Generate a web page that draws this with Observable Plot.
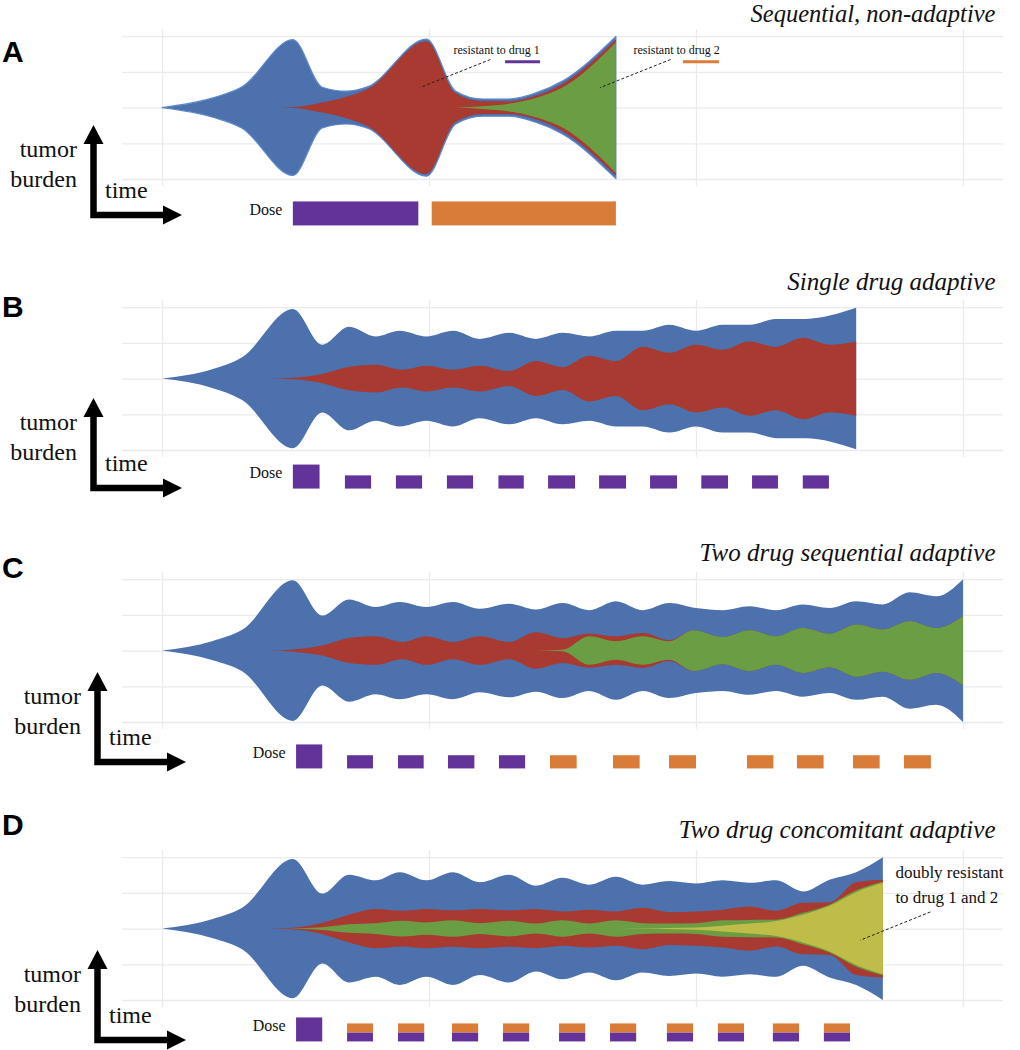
<!DOCTYPE html>
<html><head><meta charset="utf-8">
<script src="https://cdn.jsdelivr.net/npm/d3@7"></script>
<script src="https://cdn.jsdelivr.net/npm/@observablehq/plot@0.6"></script>
<style>
html,body{margin:0;padding:0;background:#fff;}
#root{position:relative;width:1020px;height:1050px;overflow:hidden;background:#fff;}
.panel{position:absolute;left:0;}
#overlay{position:absolute;left:0;top:0;pointer-events:none;}
</style></head><body><div id="root"></div>
<script>
// ---------- grid ----------
const gridTimes = [0, 100, 200, 300];
const gridLevels = [-2, -1, 0, 1, 2];

// ---------- panel titles ----------
const panelLetters = ["A", "B", "C", "D"];
const panelTitles = ["Sequential, non-adaptive", "Single drug adaptive", "Two drug sequential adaptive", "Two drug concomitant adaptive"];

// ---------- A : sequential, non-adaptive ----------
const A_blue_t = [0, 19, 30, 49, 60, 69, 77, 99, 110, 120, 130, 140, 150, 170];
const A_blue_h = [0, .27, .58, 1.90, .57, .46, .58, 1.92, .46, .24, .24, .41, .74, 1.99];
const A_red_t = [40, 49, 60, 69, 77, 99, 110, 120, 130, 140, 150, 170];
const A_red_h = [0, .01, .14, .30, .52, 1.86, .40, .18, .18, .33, .66, 1.91];
const A_green_t = [110, 120, 130, 140, 150, 170];
const A_green_h = [0, .04, .11, .27, .56, 1.83];
const A_dose_start = [49, 101];
const A_dose_end = [96, 170];
const A_drug1 = [1, 0];
const A_drug2 = [0, 1];

// ---------- B : single drug adaptive ----------
const B_blue_t = [0, 19, 30, 49, 60, 70, 80, 89, 99, 109, 119, 130, 140, 150, 160, 170, 180, 190, 200, 210, 220, 230, 241, 260];
const B_blue_h = [0, .27, .60, 1.95, .95, 1.45, 1.18, 1.34, 1.18, 1.34, 1.11, 1.28, 1.11, 1.28, 1.18, 1.34, 1.34, 1.51, 1.34, 1.51, 1.51, 1.67, 1.67, 1.98];
const B_red_t = [40, 49, 60, 70, 80, 90, 99, 109, 119, 130, 140, 150, 160, 170, 180, 190, 200, 210, 220, 230, 240, 250, 260];
const B_red_h = [0, .02, .13, .33, .39, .25, .36, .25, .36, .21, .49, .32, .64, .49, .89, .72, .95, .81, 1.04, .89, 1.14, .95, 1.04];
const B_dose_start = [49, 68.5, 87.6, 106.7, 126, 144.6, 163.7, 182.8, 202, 221, 240];
const B_dose_end = [59, 78.3, 97.4, 116.5, 135.5, 154.7, 173.8, 192.9, 212, 230.7, 249.8];
const B_drug1 = [1, .55, .55, .55, .55, .55, .55, .55, .55, .55, .55];
const B_drug2 = [0, 0, 0, 0, 0, 0, 0, 0, 0, 0, 0];

// ---------- C : two drug sequential adaptive ----------
const C_blue_t = [0, 19, 30, 49, 60, 70, 80, 89, 99, 109, 119, 130, 140, 150, 160, 170, 180, 190, 200, 210, 220, 230, 240, 250, 260, 270, 280, 290, 300];
const C_blue_h = [0, .27, .58, 1.97, .98, 1.43, 1.22, 1.36, 1.22, 1.36, 1.17, 1.31, 1.15, 1.33, 1.13, 1.38, 1.13, 1.33, 1.19, 1.13, 1.24, 1.13, 1.29, 1.19, 1.38, 1.29, 1.63, 1.52, 2.0];
const C_red_t = [40, 49, 60, 70, 80, 90, 99, 109, 119, 130, 140, 150, 160, 170, 180, 190, 199, 210, 220, 230, 240, 250, 260, 270, 280, 290, 300];
const C_red_h = [0, .03, .14, .35, .40, .24, .40, .24, .40, .24, .51, .35, .48, .40, .49, .29, .57, .38, .57, .40, .63, .47, .73, .59, .82, .63, .97];
const C_green_t = [140, 150, 160, 170, 180, 190, 199, 210, 220, 230, 240, 250, 260, 270, 280, 290, 300];
const C_green_h = [0, .02, .40, .26, .40, .26, .57, .38, .57, .40, .63, .47, .73, .59, .82, .63, .97];
const C_dose_start = [50.2, 69.3, 88.4, 107.1, 126.2, 145.3, 168.9, 189.9, 219.1, 237.8, 258.8, 277.9];
const C_dose_end = [60, 79, 98, 117, 136, 155.3, 178.9, 200, 229, 247.8, 268.8, 288];
const C_drug1 = [1, .55, .55, .55, .55, 0, 0, 0, 0, 0, 0, 0];
const C_drug2 = [0, 0, 0, 0, 0, .55, .55, .55, .55, .55, .55, .55];

// ---------- D : two drug concomitant adaptive ----------
const D_blue_t = [0, 19, 30, 49, 60, 70, 80, 89, 99, 109, 119, 130, 140, 150, 160, 170, 180, 190, 200, 210, 220, 230, 240, 250, 260, 270];
const D_blue_h = [0, .27, .58, 1.95, .98, 1.51, 1.35, 1.58, 1.35, 1.58, 1.30, 1.51, 1.20, 1.42, 1.23, 1.45, 1.23, 1.33, 1.26, 1.35, 1.28, 1.35, 1.04, 1.37, 1.58, 2.0];
const D_red_t = [40, 49, 60, 70, 80, 90, 99, 109, 119, 130, 140, 150, 160, 170, 180, 190, 200, 210, 220, 230, 240, 250, 260, 270];
const D_red_h = [0, .02, .16, .39, .55, .50, .55, .51, .55, .51, .55, .48, .53, .48, .58, .46, .48, .53, .62, .50, .72, .74, 1.30, 1.37];
const D_green_t = [45, 60, 70, 80, 90, 99, 109, 119, 130, 140, 150, 160, 170, 180, 190, 200, 210, 220, 230, 240, 250, 260, 270];
const D_green_h = [0, .04, .12, .15, .22, .17, .23, .15, .22, .14, .23, .14, .23, .15, .14, .15, .23, .24, .25, .44, .67, 1.07, 1.31];
const D_yellow_t = [170, 200, 210, 220, 230, 240, 250, 260, 270];
const D_yellow_h = [0, .03, .08, .14, .21, .39, .64, 1.02, 1.28];
const D_dose_start = [50.2, 69.3, 88.4, 108.6, 127.7, 148.7, 167.8, 189.1, 208.2, 228.8, 247.9];
const D_dose_end = [60, 79, 98.2, 118.4, 137.5, 158.5, 177.6, 198.9, 218, 238.6, 257.7];
const D_drug1 = [1, .375, .375, .375, .375, .375, .375, .375, .375, .375, .375];
const D_drug2 = [0, .375, .375, .375, .375, .375, .375, .375, .375, .375, .375];

// ---------- annotations ----------
const A_notes = ["resistant to drug 1", "resistant to drug 2"];
const A_note_t = [109, 176.4];
const A_note_y = [1.51, 1.51];
const A_key_t1 = [128.5, 195.1];
const A_key_t2 = [141.6, 208.6];
const A_key_y = [1.30, 1.30];
const A_lead_t1 = [122.8, 190.3], A_lead_y1 = [1.36, 1.36];
const A_lead_t2 = [96.6, 163.8], A_lead_y2 = [0.58, 0.57];
const D_note = "doubly resistant\nto drug 1 and 2";
const D_note_t = 274.5, D_note_y = 0.73;
const D_lead_t1 = [287.6], D_lead_y1 = [0.48];
const D_lead_t2 = [261.4], D_lead_y2 = [-0.31];

// ---------- styling / layout ----------
const COL = {blue: "#4c71ac", blueEdge: "#5d89cb", red: "#a83a31", green: "#6b9e44", yellow: "#bfbd48", drug1: "#64339a", drug2: "#d87c38", grid: "#ebebeb"};
const SERIF = "'Liberation Serif', 'DejaVu Serif', serif";
const SANS = "'Liberation Sans', Arial, sans-serif";
const DOSE_UNIT = 0.672;
const M_TOP = 40, PX_PER_UNIT = 200 / 5.6;
const panelCenter = [108, 379, 651, 929];
const titleBaseline = [22, 290, 561, 838];
const titleSize = [24.5, 25, 25, 25];
const doseBase = [-3.30, -3.08, -3.30, -3.16];
const decoOffset = [[0, 0], [0, 273], [4, 547], [4, 825]];
const letterBaseline = [62, 317, 578, 835];

const zip = (ts, hs) => ts.map((t, i) => ({t, h: hs[i]}));
const stream = (data, fill, extra = {}) => Plot.areaY(data, {x: "t", y1: d => -d.h, y2: d => d.h, fill, curve: "monotone-x", ...extra});

function doseMarks(start, end, d1, d2, base) {
  const bars = start.map((s, i) => ({x1: s, x2: end[i], d1: d1[i], d2: d2[i]}));
  return [
    Plot.rect(bars.filter(b => b.d1 > 0), {x1: "x1", x2: "x2", y1: () => base, y2: b => base + b.d1 * DOSE_UNIT, fill: COL.drug1}),
    Plot.rect(bars.filter(b => b.d2 > 0), {x1: "x1", x2: "x2", y1: b => base + b.d1 * DOSE_UNIT, y2: b => base + (b.d1 + b.d2) * DOSE_UNIT, fill: COL.drug2}),
    Plot.text(["Dose"], {x: () => start[0], y: () => base, dx: -11, dy: -11, textAnchor: "end", lineAnchor: "bottom", fontSize: 16, fontFamily: SERIF, fill: "#111"})
  ];
}

function panel(i, streams, dose, extra) {
  const top = panelCenter[i] - M_TOP - 2.2 * PX_PER_UNIT;
  const svg = Plot.plot({
    width: 1020, height: 240,
    marginLeft: 122, marginRight: 17, marginTop: M_TOP, marginBottom: 0,
    x: {domain: [-15, 315], axis: null},
    y: {domain: [-3.4, 2.2], axis: null},
    style: {background: "transparent", overflow: "visible"},
    marks: [
      Plot.ruleY(gridLevels, {stroke: COL.grid, strokeWidth: 1.3}),
      Plot.ruleX(gridTimes, {y1: -2.2, y2: 2.2, stroke: COL.grid, strokeWidth: 1.3}),
      ...streams,
      ...dose,
      ...(extra || []),
      Plot.text([panelTitles[i]], {frameAnchor: "top-right", dx: -8, dy: (titleBaseline[i] - top) - M_TOP, lineAnchor: "bottom", fontSize: titleSize[i], fontStyle: "italic", fontFamily: SERIF, fill: "#111"})
    ]
  });
  const div = document.createElement("div");
  div.className = "panel";
  div.style.top = top + "px";
  div.appendChild(svg);
  document.getElementById("root").appendChild(div);
}

// A
const notesA = A_notes.map((s, i) => ({s, t: A_note_t[i], y: A_note_y[i]}));
const keysA = A_key_t1.map((t1, i) => ({t1, t2: A_key_t2[i], y: A_key_y[i], c: i === 0 ? COL.drug1 : COL.drug2}));
const leadsA = A_lead_t1.map((t1, i) => ({t1, y1: A_lead_y1[i], t2: A_lead_t2[i], y2: A_lead_y2[i]}));
panel(0,
  [stream(zip(A_blue_t, A_blue_h), COL.blue, {stroke: COL.blueEdge, strokeWidth: 1.2}), stream(zip(A_red_t, A_red_h), COL.red), stream(zip(A_green_t, A_green_h), COL.green)],
  doseMarks(A_dose_start, A_dose_end, A_drug1, A_drug2, doseBase[0]),
  [
    Plot.text(notesA, {x: "t", y: "y", text: "s", textAnchor: "start", lineAnchor: "bottom", fontSize: 12, fontFamily: SERIF, fill: "#111"}),
    Plot.ruleY(keysA, {x1: "t1", x2: "t2", y: "y", stroke: "c", strokeWidth: 3}),
    Plot.link(leadsA, {x1: "t1", y1: "y1", x2: "t2", y2: "y2", stroke: "#222", strokeWidth: 1, strokeDasharray: "3,2"})
  ]);

// B
panel(1,
  [stream(zip(B_blue_t, B_blue_h), COL.blue), stream(zip(B_red_t, B_red_h), COL.red)],
  doseMarks(B_dose_start, B_dose_end, B_drug1, B_drug2, doseBase[1]));

// C
panel(2,
  [stream(zip(C_blue_t, C_blue_h), COL.blue), stream(zip(C_red_t, C_red_h), COL.red), stream(zip(C_green_t, C_green_h), COL.green)],
  doseMarks(C_dose_start, C_dose_end, C_drug1, C_drug2, doseBase[2]));

// D
const leadsD = D_lead_t1.map((t1, i) => ({t1, y1: D_lead_y1[i], t2: D_lead_t2[i], y2: D_lead_y2[i]}));
panel(3,
  [stream(zip(D_blue_t, D_blue_h), COL.blue), stream(zip(D_red_t, D_red_h), COL.red), stream(zip(D_green_t, D_green_h), COL.green), stream(zip(D_yellow_t, D_yellow_h), COL.yellow)],
  doseMarks(D_dose_start, D_dose_end, D_drug1, D_drug2, doseBase[3]),
  [
    Plot.text([D_note], {x: () => D_note_t, y: () => D_note_y, textAnchor: "start", lineAnchor: "bottom", lineHeight: 1.47, fontSize: 17, fontFamily: SERIF, fill: "#111"}),
    Plot.link(leadsD, {x1: "t1", y1: "y1", x2: "t2", y2: "y2", stroke: "#222", strokeWidth: 1, strokeDasharray: "3,2"})
  ]);

// ---------- overlay: panel letters and axis-direction arrows ----------
const ov = d3.select("#root").append("svg").attr("id", "overlay").attr("width", 1020).attr("height", 1050);
panelLetters.forEach((L, i) => {
  ov.append("text").attr("x", 2).attr("y", letterBaseline[i]).attr("font-family", SANS).attr("font-weight", "bold").attr("font-size", 30).attr("fill", "#000").text(L);
  const [ox, oy] = decoOffset[i];
  const g = ov.append("g").attr("transform", `translate(${ox},${oy})`);
  g.append("path").attr("d", "M93.5,141 V215 H165").attr("fill", "none").attr("stroke", "#000").attr("stroke-width", 6.5).attr("stroke-linejoin", "miter");
  g.append("path").attr("d", "M93.5,125 L83.5,144 L103.5,144 Z").attr("fill", "#000");
  g.append("path").attr("d", "M182,215 L163,205.5 L163,224.5 Z").attr("fill", "#000");
  g.append("text").attr("x", 77).attr("y", 157).attr("text-anchor", "end").attr("font-family", SERIF).attr("font-size", 24).attr("fill", "#111").text("tumor");
  g.append("text").attr("x", 77).attr("y", 187).attr("text-anchor", "end").attr("font-family", SERIF).attr("font-size", 24).attr("fill", "#111").text("burden");
  g.append("text").attr("x", 105).attr("y", 198).attr("font-family", SERIF).attr("font-size", 24).attr("fill", "#111").text("time");
});
</script></body></html>
